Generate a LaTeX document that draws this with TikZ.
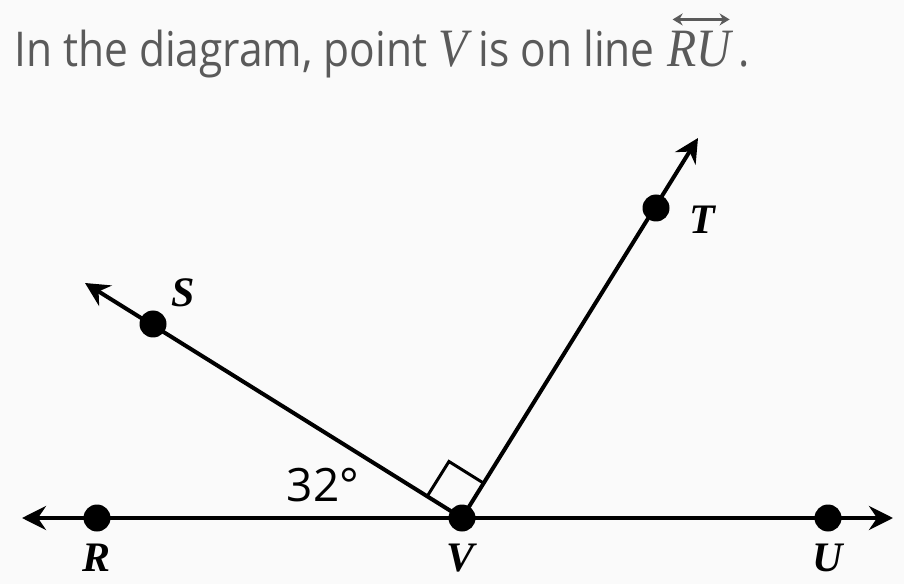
\documentclass[tikz,border=0pt]{standalone}
\usepackage{fontspec}
\setmainfont{Open Sans}
\newfontfamily\lblfont{Liberation Serif}
\usetikzlibrary{arrows.meta,calc}
\definecolor{titlegray}{HTML}{5A5A5A}
\definecolor{bgcol}{HTML}{FAFAFA}
\begin{document}
\begin{tikzpicture}[x=1pt,y=1pt,
  tip/.tip={Stealth[length=24pt,width=24pt,inset=8pt]},
  ray/.style={line width=4pt,-tip},
  dotpt/.style={circle,fill=black,inner sep=0pt,minimum size=27pt},
  lbl/.style={font=\fontsize{42}{42}\selectfont\lblfont\bfseries\itshape,inner sep=0pt},
  ang/.style={font=\fontsize{46}{46}\selectfont,inner sep=0pt},
  ttl/.style={anchor=base west,text=titlegray,inner sep=0pt,font=\fontsize{48}{48}\selectfont}]
\fill[bgcol] (0,0) rectangle (904,584);
\useasboundingbox (0,0) rectangle (904,584);
% title
\begin{scope}[shift={(14,517)},xscale=0.885,transform shape]
\node[ttl] (title) at (0,0)
  {In the diagram, point {\lblfont\itshape\fontsize{54}{54}\selectfont V} is on line};
\node[ttl,font=\fontsize{54}{54}\selectfont\lblfont\itshape] (ru) at ($(title.base east)+(14,0)$) {RU};
\node[ttl] (dot) at ($(ru.base east)+(8,0)$) {.};
\draw[titlegray,line width=2.5pt,{Stealth[length=10pt,width=12pt]}-{Stealth[length=10pt,width=12pt]}]
  ($(ru.north west)+(6,12)$) -- ($(ru.north east)+(-2,12)$);
\end{scope}
% points
\coordinate (Lend) at (22,66);
\coordinate (Rend) at (893,66);
\coordinate (Send) at (85,301);
\coordinate (Tend) at (698,446);
\coordinate (Vc) at (462,66);
% lines
\draw[line width=4pt,tip-tip] (Lend) -- (Rend);
\draw[ray] (Vc) -- (Send);
\draw[ray] (Vc) -- (Tend);
% right angle mark
\draw[line width=3pt] ($(Vc)+(148:41)$) -- ($(Vc)+(148:41)+(58:41)$) -- ($(Vc)+(58:41)$);
% dots
\node[dotpt] (V) at (Vc) {};
\node[dotpt] (R) at (97,66) {};
\node[dotpt] (U) at (828,66) {};
\node[dotpt] (S) at (153,260) {};
\node[dotpt] (T) at (656,376) {};
% labels
\node[lbl] (Rl) at (97,26) {R};
\node[lbl] (Vl) at (460,26) {V};
\node[lbl] (Ul) at (828,26) {U};
\node[lbl] (Sl) at (183,291) {S};
\node[lbl] (Tl) at (702,364) {T};
\node[ang] (a32) at (323,99) {32°};
\end{tikzpicture}
\end{document}
